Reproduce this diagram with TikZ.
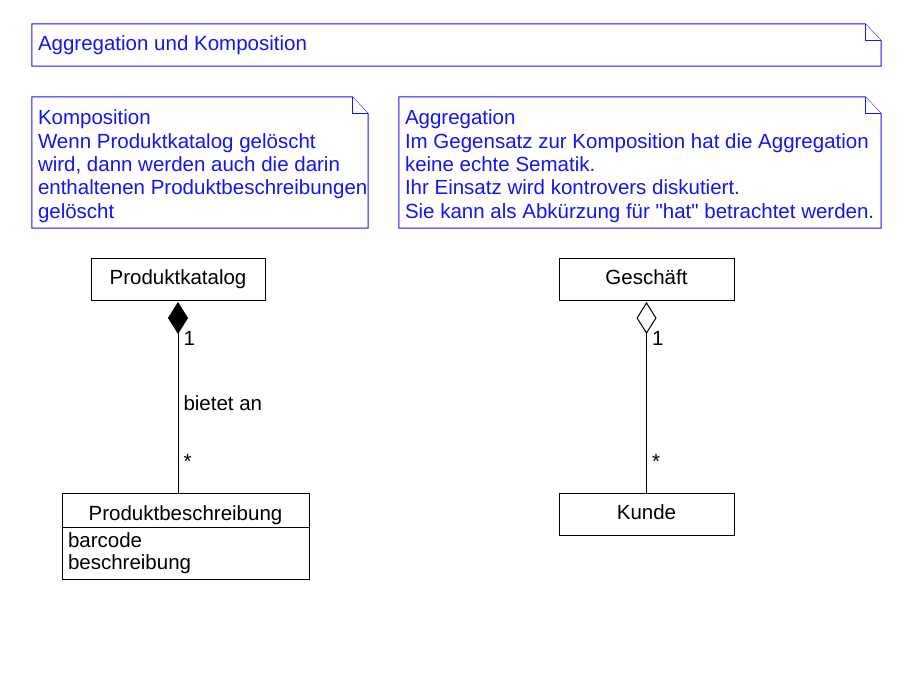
\documentclass[tikz,border=0pt]{standalone}
\usepackage{fontspec}
\setmainfont{Liberation Sans}
\usetikzlibrary{arrows.meta, positioning}
\usepackage{xcolor}
\definecolor{noteblue}{RGB}{20, 20, 245}
\definecolor{umldark}{RGB}{0, 0, 0}

% note outline with folded corner
\newcommand{\notefold}[1]{%
  \draw[noteline] (#1.north west) -- ([xshift=-16pt]#1.north east) -- ([yshift=-17pt]#1.north east) -- (#1.south east) -- (#1.south west) -- cycle;
  \draw[noteline] ([xshift=-16pt]#1.north east) |- ([yshift=-17pt]#1.north east);}

\begin{document}
\begin{tikzpicture}[
    x=1pt, y=-1pt,
    note/.style={rectangle, inner sep=0pt},
    noteline/.style={draw=noteblue, line width=1pt, fill=white},
    notetext/.style={anchor=north west, inner sep=0pt, align=left, text=noteblue, font=\fontsize{20.5}{23.3}\selectfont},
    classbox/.style={rectangle, draw=umldark, line width=1pt, outer sep=0pt, minimum height=42pt, text height=14.8pt, text depth=4.3pt, font=\fontsize{20.5}{24}\selectfont},
    attrbox/.style={rectangle, draw=umldark, line width=1pt, outer sep=0pt, inner xsep=6pt, inner ysep=4pt, align=left, font=\fontsize{20.5}{22.5}\selectfont},
    lbl/.style={inner sep=5pt, font=\fontsize{20.5}{24}\selectfont, anchor=west},
    comp/.style={{Diamond[length=32pt, width=20pt]}-, line width=1pt, color=umldark, shorten <=2pt},
    agg/.style={{Diamond[open, length=32pt, width=20pt, fill=white]}-, line width=1pt, color=umldark, shorten <=2pt},
]
\useasboundingbox (0,0) rectangle (917,690);

% Notes
\node[note, minimum width=849pt, minimum height=42pt] (title) at (456.5, 45) {};
\notefold{title}
\node[notetext] (titleText) at ([shift={(6,12)}]title.north west) {Aggregation und Komposition};

\node[note, minimum width=336pt, minimum height=131pt] (kompNote) at (200, 162.5) {};
\notefold{kompNote}
\node[notetext] (kompText) at ([shift={(6,13)}]kompNote.north west) {Komposition\\
Wenn Produktkatalog gelöscht\\
wird, dann werden auch die darin\\
enthaltenen Produktbeschreibungen\\
gelöscht};

\node[note, minimum width=482pt, minimum height=131pt] (aggNote) at (640, 162.5) {};
\notefold{aggNote}
\node[notetext] (aggText) at ([shift={(6,13)}]aggNote.north west) {Aggregation\\
Im Gegensatz zur Komposition hat die Aggregation\\
keine echte Sematik.\\
Ihr Einsatz wird kontrovers diskutiert.\\
Sie kann als Abkürzung für \textquotedbl hat\textquotedbl\ betrachtet werden.};

% Komposition
\node[classbox, minimum width=174pt] (katalog) at (178, 279) {Produktkatalog};
\node[classbox, minimum width=247pt, minimum height=34.5pt, text height=20pt, text depth=0pt] (beschr) at (185.5, 510.25) {Produktbeschreibung};
\node[attrbox, minimum height=51.5pt, text width=235pt, below=0pt of beschr] (beschrAttr) {barcode\\beschreibung};

\draw[comp] (katalog.south) -- node[lbl, pos=0.197] {1} node[lbl, pos=0.534] {bietet an} node[lbl, pos=0.839] {*} (katalog.south |- beschr.north);

% Aggregation
\node[classbox, minimum width=175pt] (geschaeft) at (646.5, 279) {Geschäft};
\node[classbox, minimum width=175pt] (kunde) at (646.5, 514) {Kunde};

\draw[agg] (geschaeft.south) -- node[lbl, pos=0.197] {1} node[lbl, pos=0.839] {*} (kunde.north);

\end{tikzpicture}
\end{document}
